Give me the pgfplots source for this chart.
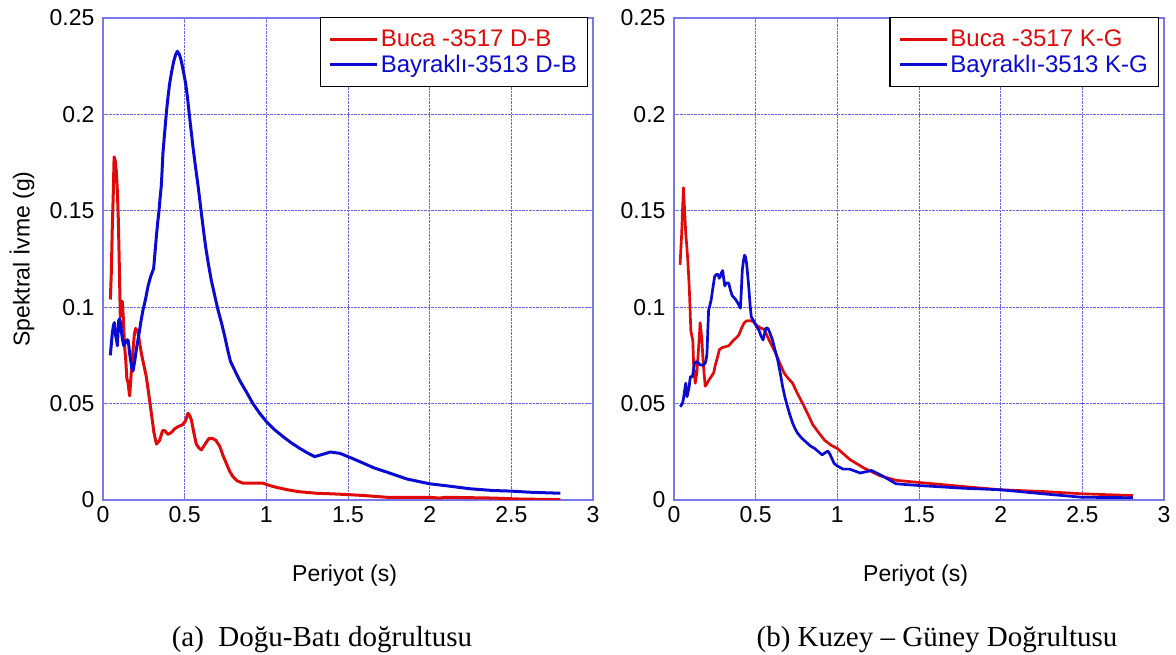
\documentclass[border=0pt]{standalone}
\usepackage{pgfplots}
\pgfplotsset{compat=1.18}
\usepackage{pgfplotstable}
\usepackage{fontspec}
\setmainfont{Liberation Sans}
\newfontfamily\capfont{Liberation Serif}
\definecolor{mred}{RGB}{225,10,10}
\definecolor{mblue}{RGB}{10,10,210}
\definecolor{frame}{RGB}{120,120,235}
\definecolor{gridc}{RGB}{100,100,235}

\pgfplotstableread{
x y
0.045 0.104
0.051 0.118
0.057 0.142
0.062 0.156
0.068 0.178
0.075 0.176
0.082 0.170
0.088 0.160
0.094 0.145
0.100 0.121
0.106 0.095
0.112 0.103
0.118 0.103
0.124 0.095
0.132 0.080
0.139 0.073
0.146 0.063
0.153 0.061
0.163 0.054
0.173 0.066
0.184 0.078
0.192 0.086
0.200 0.089
0.214 0.087
0.235 0.076
0.250 0.070
0.265 0.064
0.280 0.055
0.296 0.045
0.312 0.035
0.327 0.029
0.347 0.031
0.365 0.036
0.378 0.036
0.398 0.034
0.418 0.035
0.440 0.037
0.459 0.038
0.486 0.039
0.505 0.041
0.520 0.045
0.530 0.044
0.541 0.0415
0.556 0.035
0.571 0.029
0.587 0.027
0.602 0.026
0.618 0.028
0.633 0.030
0.650 0.032
0.669 0.032
0.690 0.031
0.714 0.028
0.735 0.023
0.755 0.019
0.775 0.015
0.796 0.012
0.820 0.010
0.857 0.0087
0.900 0.0087
0.950 0.0088
0.980 0.0087
1.020 0.0075
1.060 0.0066
1.130 0.0053
1.200 0.0043
1.306 0.0035
1.400 0.0032
1.500 0.0028
1.600 0.0023
1.740 0.0014
2.000 0.0014
2.060 0.0010
2.100 0.0014
2.390 0.0010
2.550 0.0005
2.800 0.0002
}\redA

\pgfplotstableread{
x y
0.045 0.075
0.051 0.081
0.057 0.0865
0.063 0.090
0.069 0.092
0.074 0.088
0.078 0.085
0.083 0.083
0.088 0.080
0.092 0.087
0.096 0.093
0.101 0.094
0.106 0.0925
0.110 0.090
0.114 0.0865
0.120 0.083
0.127 0.080
0.133 0.081
0.139 0.082
0.146 0.083
0.153 0.083
0.158 0.080
0.163 0.076
0.170 0.072
0.177 0.068
0.184 0.067
0.194 0.072
0.204 0.078
0.214 0.083
0.224 0.088
0.235 0.094
0.245 0.0986
0.260 0.104
0.276 0.111
0.292 0.116
0.310 0.120
0.318 0.128
0.327 0.137
0.335 0.144
0.343 0.150
0.350 0.157
0.357 0.163
0.362 0.171
0.367 0.180
0.378 0.191
0.388 0.201
0.398 0.209
0.408 0.216
0.420 0.222
0.433 0.2275
0.445 0.231
0.455 0.2327
0.468 0.231
0.480 0.2275
0.493 0.222
0.506 0.216
0.517 0.209
0.527 0.201
0.539 0.192
0.551 0.183
0.566 0.173
0.582 0.163
0.602 0.149
0.615 0.140
0.629 0.131
0.646 0.122
0.663 0.114
0.684 0.106
0.704 0.0986
0.725 0.092
0.745 0.085
0.763 0.078
0.780 0.072
0.808 0.067
0.837 0.062
0.878 0.056
0.918 0.050
0.959 0.045
1.000 0.0407
1.050 0.0365
1.100 0.033
1.150 0.0298
1.204 0.0268
1.250 0.0245
1.296 0.0225
1.350 0.0238
1.392 0.0249
1.450 0.0242
1.500 0.0225
1.556 0.0205
1.658 0.0167
1.740 0.0144
1.860 0.0109
2.000 0.0084
2.100 0.0074
2.250 0.0058
2.390 0.0049
2.500 0.0046
2.620 0.0040
2.800 0.0035
}\blueA

\pgfplotstableread{
x y
0.037 0.122
0.042 0.130
0.047 0.138
0.052 0.150
0.058 0.162
0.064 0.152
0.068 0.145
0.072 0.138
0.078 0.132
0.084 0.125
0.090 0.116
0.095 0.107
0.103 0.088
0.109 0.085
0.115 0.083
0.121 0.068
0.130 0.0606
0.140 0.066
0.150 0.078
0.156 0.086
0.160 0.092
0.165 0.088
0.171 0.083
0.176 0.075
0.181 0.069
0.191 0.059
0.200 0.060
0.212 0.062
0.228 0.064
0.243 0.066
0.253 0.070
0.263 0.073
0.278 0.078
0.294 0.079
0.315 0.0795
0.335 0.080
0.350 0.0815
0.366 0.083
0.380 0.084
0.397 0.0856
0.413 0.089
0.428 0.0917
0.442 0.0928
0.455 0.093
0.470 0.093
0.484 0.0926
0.500 0.091
0.516 0.090
0.535 0.089
0.551 0.0886
0.566 0.086
0.582 0.083
0.600 0.080
0.623 0.076
0.650 0.0705
0.675 0.0657
0.700 0.063
0.726 0.0606
0.757 0.055
0.788 0.050
0.820 0.0445
0.850 0.039
0.885 0.035
0.922 0.031
0.960 0.0285
1.000 0.0267
1.077 0.0210
1.160 0.0167
1.260 0.0126
1.360 0.0102
1.500 0.0091
1.770 0.0070
2.000 0.0053
2.260 0.0044
2.500 0.0032
2.810 0.0023
}\redB

\pgfplotstableread{
x y
0.037 0.0484
0.044 0.049
0.051 0.050
0.057 0.052
0.062 0.055
0.067 0.058
0.072 0.0606
0.076 0.057
0.080 0.0536
0.086 0.056
0.093 0.0588
0.097 0.062
0.101 0.064
0.107 0.064
0.113 0.064
0.120 0.068
0.126 0.071
0.136 0.0718
0.150 0.071
0.160 0.070
0.171 0.070
0.181 0.070
0.191 0.071
0.197 0.073
0.202 0.076
0.207 0.088
0.212 0.0986
0.220 0.101
0.228 0.104
0.238 0.110
0.249 0.116
0.260 0.117
0.270 0.117
0.277 0.115
0.284 0.116
0.291 0.118
0.298 0.119
0.304 0.115
0.311 0.111
0.316 0.112
0.321 0.1125
0.335 0.1125
0.345 0.109
0.356 0.106
0.367 0.105
0.377 0.104
0.392 0.102
0.407 0.0995
0.413 0.110
0.418 0.119
0.425 0.124
0.432 0.127
0.438 0.126
0.444 0.123
0.452 0.116
0.459 0.109
0.466 0.101
0.473 0.095
0.490 0.0926
0.505 0.090
0.520 0.088
0.533 0.085
0.545 0.083
0.554 0.086
0.562 0.089
0.570 0.0893
0.578 0.0886
0.590 0.086
0.603 0.083
0.618 0.078
0.634 0.073
0.650 0.066
0.665 0.0588
0.680 0.053
0.695 0.0484
0.710 0.044
0.726 0.040
0.741 0.037
0.757 0.0346
0.783 0.032
0.809 0.030
0.835 0.028
0.860 0.0268
0.885 0.025
0.907 0.0234
0.925 0.0245
0.942 0.0254
0.953 0.024
0.963 0.0222
0.980 0.019
0.994 0.018
1.035 0.016
1.076 0.016
1.140 0.014
1.210 0.0153
1.280 0.0123
1.360 0.0084
1.500 0.0075
1.770 0.0061
2.000 0.0053
2.260 0.0032
2.500 0.0014
2.810 0.0012
}\blueB

\pgfplotsset{
  spec/.style={
    anchor=south west,
    scale only axis,
    width=490pt, height=482pt,
    xmin=0, xmax=3, ymin=0, ymax=0.25,
    xtick={0,0.5,1,1.5,2,2.5,3},
    xticklabels={0,0.5,1,1.5,2,2.5,3},
    ytick={0,0.05,0.1,0.15,0.2,0.25},
    yticklabels={0,0.05,0.1,0.15,0.2,0.25},
    tick label style={font=\fontsize{23}{27}\selectfont},
    xticklabel style={yshift=-3pt},
    yticklabel style={xshift=-5pt},
    axis line style={draw=frame, line width=1.2pt},
    tick style={draw=frame, line width=0.8pt},
    tick align=inside,
    major tick length=5pt,
    grid=major,
    major grid style={draw=gridc, densely dotted, line width=0.7pt},
    xlabel={Periyot (s)},
    every axis x label/.style={at={(axis description cs:0.493,-0.170)}, anchor=base,
      font=\fontsize{23}{27}\selectfont},
    legend cell align=left,
    legend image code/.code={\draw[#1, line width=2.8pt] (0pt,0pt) -- (47pt,0pt);},
    legend style={
      at={(axis description cs:1,1)}, anchor=north east,
      xshift=-5pt, yshift=1pt,
      draw=black, line width=1.3pt, fill=white,
      font=\fontsize{24}{26}\selectfont,
      inner xsep=8pt, inner ysep=9pt,
      row sep=0pt,
      nodes={inner xsep=2.5pt, inner ysep=3.5pt}
    },
  }
}

\begin{document}
\begin{tikzpicture}
\useasboundingbox (0,0) rectangle (1176pt,655pt);
\begin{axis}[spec, at={(103pt,155pt)},
  ylabel={Spektral İvme (g)},
  every axis y label/.style={at={(axis description cs:-0.165,0.5)}, rotate=90, anchor=center,
    font=\fontsize{23}{27}\selectfont}]
\addplot[mred, line width=3pt, line join=round] table[x=x,y=y] {\redA};
\addlegendentry{\textcolor{mred}{Buca -3517 D-B}}
\addplot[mblue, line width=3pt, line join=round] table[x=x,y=y] {\blueA};
\addlegendentry{\textcolor{mblue}{Bayraklı-3513 D-B}}
\end{axis}
\begin{axis}[spec, at={(674pt,155pt)}]
\addplot[mred, line width=2.7pt, line join=round] table[x=x,y=y] {\redB};
\addlegendentry{\textcolor{mred}{Buca -3517 K-G}}
\addplot[mblue, line width=2.7pt, line join=round] table[x=x,y=y] {\blueB};
\addlegendentry{\textcolor{mblue}{Bayraklı-3513 K-G}}
\end{axis}
\node[font=\capfont\fontsize{29}{33}\selectfont, anchor=base] at (322pt,8pt) {(a)\enspace Doğu-Batı doğrultusu};
\node[font=\capfont\fontsize{29}{33}\selectfont, anchor=base] at (937pt,8pt) {(b) Kuzey – Güney Doğrultusu};
\end{tikzpicture}
\end{document}
